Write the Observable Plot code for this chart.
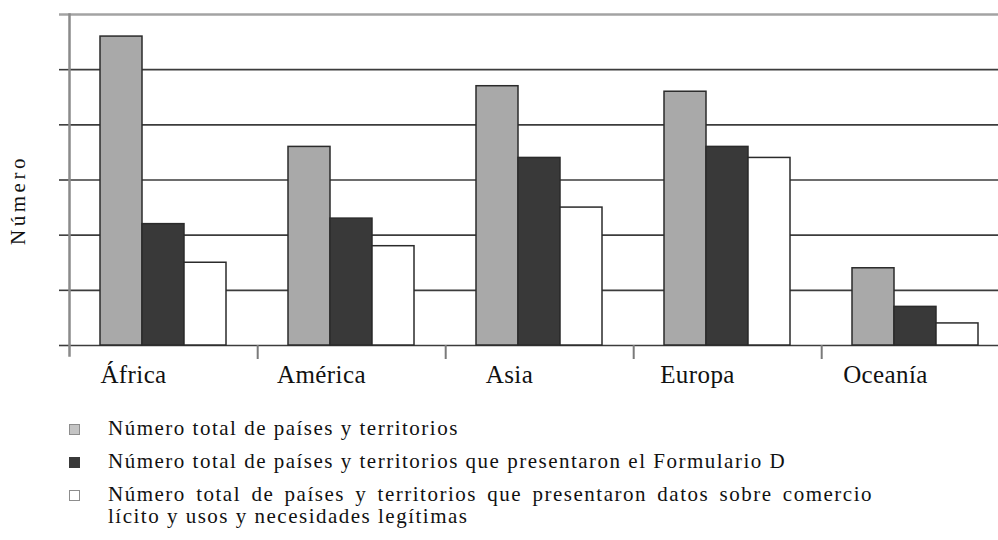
<!DOCTYPE html>
<html>
<head>
<meta charset="utf-8">
<script src="https://cdn.jsdelivr.net/npm/d3@7"></script>
<script src="https://cdn.jsdelivr.net/npm/@observablehq/plot@0.6"></script>
<style>
  html, body { margin: 0; padding: 0; background: #fff; overflow: hidden; }
  #chart svg { display: block; overflow: hidden; }
  #chart .ylab text { letter-spacing: 3.5px; }
  #chart g[aria-label="fx-axis tick label"] text { letter-spacing: 0.4px; }
  #legend { font-family: "Liberation Serif", serif; font-size: 21px; letter-spacing: 1.5px; color: #111;
            margin-top: 22px; padding-left: 69px; }
  .item { display: flex; align-items: flex-start; margin-bottom: 11px; line-height: 22px; }
  .sw { width: 11px; height: 11px; box-sizing: border-box; margin-top: 7px; margin-right: 28px; flex: none; }
  .txt { width: 765px; text-align: justify; }
</style>
</head>
<body>
<div id="chart"></div>
<div id="legend"></div>
<script>
const regions = ["África", "América", "Asia", "Europa", "Oceanía"];
const totalPaises = [56, 36, 47, 46, 14];
const formularioD = [22, 23, 34, 36, 7];
const comercioLicito = [15, 18, 25, 34, 4];
const seriesNames = [
  "Número total de países y territorios",
  "Número total de países y territorios que presentaron el Formulario D",
  "Número total de países y territorios que presentaron datos sobre comercio lícito y usos y necesidades legítimas"
];
const yGrid = [0, 10, 20, 30, 40, 50];
const yTop = [60];
const yLabel = "Número";

const seriesValues = [totalPaises, formularioD, comercioLicito];
const tidy = [];
regions.forEach((r, i) => seriesValues.forEach((vals, s) => tidy.push({region: r, serie: seriesNames[s], value: vals[i]})));

const fills = ["#a9a9a9", "#393939", "#ffffff"];
const W = 998, H = 395, ML = 68, MR = -12, MT = 14, MB = 50;
const halfStep = (W - ML - MR) / regions.length / 2;

const chart = Plot.plot({
  width: W, height: H,
  marginLeft: ML, marginRight: MR, marginTop: MT, marginBottom: MB,
  style: {fontFamily: "'Liberation Serif', serif", color: "#111", background: "white", overflow: "hidden"},
  fx: {domain: regions, padding: 0},
  x: {domain: seriesNames, paddingInner: 0, paddingOuter: 0.72, axis: null},
  y: {domain: [0, 60]},
  color: {domain: seriesNames, range: fills},
  marks: [
    Plot.ruleY(yGrid, {stroke: "#3c3c3c", strokeWidth: 1.6}),
    Plot.ruleY(yTop, {stroke: "#a3a3a3", strokeWidth: 2.5}),
    Plot.axisY({ticks: yGrid, tickSize: 10, tickFormat: () => "", stroke: "#3c3c3c", strokeWidth: 1.6, label: null}),
    Plot.axisY({ticks: yTop, tickSize: 10, tickFormat: () => "", stroke: "#a3a3a3", strokeWidth: 2.5, label: null}),
    Plot.frame({anchor: "left", facetAnchor: "left", stroke: "#8a8a8a", strokeWidth: 2.5, insetBottom: -10}),
    Plot.barY(tidy, {fx: "region", x: "serie", y: "value", fill: "serie", stroke: "#2b2b2b", strokeWidth: 1.5}),
    Plot.axisFx({anchor: "bottom", tickSize: 14, tickFormat: () => "", dx: halfStep, stroke: "#7a7a7a", strokeWidth: 2, label: null}),
    Plot.axisFx({anchor: "bottom", tickSize: 0, tickPadding: 20, dx: -30, fontSize: 25, fill: "#111", label: null}),
    Plot.text([yLabel], {text: d => d, frameAnchor: "left", textAnchor: "middle", rotate: -90, dx: -51, dy: 20, fontSize: 21, fill: "#111", facetAnchor: "left", className: "ylab"})
  ]
});
document.getElementById("chart").appendChild(chart);

const legend = document.getElementById("legend");
seriesNames.forEach((name, i) => {
  const item = document.createElement("div");
  item.className = "item";
  const sw = document.createElement("div");
  sw.className = "sw";
  sw.style.background = i === 0 ? "#c4c4c4" : fills[i];
  sw.style.border = i === 1 ? "1.5px solid #3a3a3a" : "1.5px solid #8d8d8d";
  const t = document.createElement("div");
  t.className = "txt";
  t.textContent = name;
  item.appendChild(sw);
  item.appendChild(t);
  legend.appendChild(item);
});
</script>
</body>
</html>
